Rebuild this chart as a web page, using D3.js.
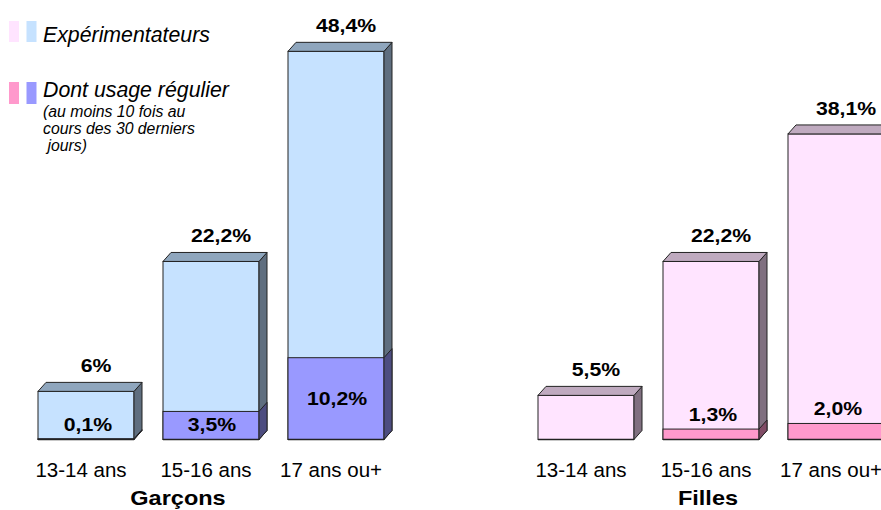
<!DOCTYPE html>
<html><head><meta charset="utf-8">
<script src="https://cdn.jsdelivr.net/npm/d3@7"></script>
<style>html,body{margin:0;padding:0;background:#fff;overflow:hidden}svg{display:block;font-family:"Liberation Sans",Arial,sans-serif}</style>
</head><body>
<svg id="chart" width="881" height="510"></svg>
<script>
// ---- data ----
const categories = ["13-14 ans", "15-16 ans", "17 ans ou+"];
const groups = ["Garçons", "Filles"];
const expGarcons = [6, 22.2, 48.4];
const regGarcons = [0.1, 3.5, 10.2];
const expFilles = [5.5, 22.2, 38.1];
const regFilles = [0, 1.3, 2.0];
const expLabelsGarcons = ["6%", "22,2%", "48,4%"];
const regLabelsGarcons = ["0,1%", "3,5%", "10,2%"];
const expLabelsFilles = ["5,5%", "22,2%", "38,1%"];
const regLabelsFilles = ["", "1,3%", "2,0%"];
const legendMain = ["Expérimentateurs", "Dont usage régulier"];
const legendNote = ["(au moins 10 fois au", "cours des 30 derniers", " jours)"];

// ---- styles ----
const palette = {
  "Garçons": {exp: "#C6E2FF", expTop: "#8FA6BD", expSide: "#5F6E7F", reg: "#9999FF", regSide: "#4D4D80"},
  "Filles":  {exp: "#FFE4FF", expTop: "#BFAABF", expSide: "#807080", reg: "#FF99CC", regSide: "#804C66"}
};
const stroke = "#222";
const dx = 8, dy = 9;
const titleDx = {"Garçons": -33, "Filles": -3};

const rows = [];
groups.forEach((g, gi) => {
  const exp = gi === 0 ? expGarcons : expFilles;
  const reg = gi === 0 ? regGarcons : regFilles;
  const el = gi === 0 ? expLabelsGarcons : expLabelsFilles;
  const rl = gi === 0 ? regLabelsGarcons : regLabelsFilles;
  categories.forEach((c, ci) => rows.push({group: g, cat: c, key: g + "|" + c, exp: exp[ci], reg: reg[ci], expLabel: el[ci], regLabel: rl[ci]}));
});

const keys = [];
groups.forEach((g, gi) => { if (gi > 0) keys.push("gap"); categories.forEach(c => keys.push(g + "|" + c)); });

const x = d3.scaleBand().domain(keys).range([38, 884]).paddingInner(0.232).paddingOuter(0);
const y = d3.scaleLinear().domain([0, 50]).range([439.5, 38.5]);

const svg = d3.select("#chart");
const bars = svg.append("g");

rows.forEach(d => {
  const p = palette[d.group];
  const x0 = x(d.key), w = x.bandwidth(), x1 = x0 + w;
  const yb = y(0), ye = y(d.exp), yr = y(d.reg);
  const g = bars.append("g");
  g.append("rect").attr("x", x0).attr("y", ye).attr("width", w).attr("height", yb - ye)
    .attr("fill", p.exp).attr("stroke", stroke).attr("stroke-width", 1);
  g.append("path").attr("d", `M${x1},${ye}L${x1+dx},${ye-dy}L${x1+dx},${yb-dy}L${x1},${yb}Z`)
    .attr("fill", p.expSide).attr("stroke", stroke).attr("stroke-width", 1);
  g.append("path").attr("d", `M${x0},${ye}L${x0+dx},${ye-dy}L${x1+dx},${ye-dy}L${x1},${ye}Z`)
    .attr("fill", p.expTop).attr("stroke", stroke).attr("stroke-width", 1);
  if (d.reg > 0) {
    g.append("rect").attr("x", x0).attr("y", yr).attr("width", w).attr("height", yb - yr)
      .attr("fill", p.reg).attr("stroke", stroke).attr("stroke-width", 1);
    g.append("path").attr("d", `M${x1},${yr}L${x1+dx},${yr-dy}L${x1+dx},${yb-dy}L${x1},${yb}Z`)
      .attr("fill", p.regSide).attr("stroke", stroke).attr("stroke-width", 1);
  }
  g.append("line").attr("x1", x0).attr("x2", x1).attr("y1", yb).attr("y2", yb)
    .attr("stroke", stroke).attr("stroke-width", 1.5);

  const boldLabel = (tx, ty, txt) => bars.append("text")
    .attr("transform", `translate(${tx},${ty}) scale(1.18,1)`)
    .attr("text-anchor", "middle").attr("font-weight", "bold").attr("font-size", 18)
    .attr("fill", "#000").text(txt);
  boldLabel(x0 + w / 2 + 10, ye - dy - 10, d.expLabel);
  if (d.regLabel) {
    const h = yb - yr;
    const ty = h >= 20 ? (yr + yb) / 2 + 6 : Math.min(yr - 8, yb - 7);
    boldLabel(x0 + w / 2 + (h >= 20 ? 1 : 2), ty, d.regLabel);
  }
  svg.append("text").attr("x", x0 + w / 2 - 5).attr("y", 477).attr("text-anchor", "middle")
    .attr("font-size", 20.5).attr("fill", "#000").text(d.cat);
});

groups.forEach(g => {
  const mid = x(g + "|" + categories[1]) + x.bandwidth() / 2 + titleDx[g];
  svg.append("text").attr("transform", `translate(${mid},505) scale(1.12,1)`)
    .attr("text-anchor", "middle").attr("font-weight", "bold").attr("font-size", 21)
    .attr("fill", "#000").text(g);
});

const leg = svg.append("g");
const legRows = [
  {y: 21, h: 21, c: [palette["Filles"].exp, palette["Garçons"].exp], text: legendMain[0], ty: 42},
  {y: 82, h: 22, c: [palette["Filles"].reg, palette["Garçons"].reg], text: legendMain[1], ty: 97}
];
legRows.forEach(r => {
  leg.append("rect").attr("x", 9).attr("y", r.y).attr("width", 10).attr("height", r.h).attr("fill", r.c[0]);
  leg.append("rect").attr("x", 26.5).attr("y", r.y).attr("width", 10).attr("height", r.h).attr("fill", r.c[1]);
  leg.append("text").attr("x", 43).attr("y", r.ty).attr("font-size", 21.3).attr("font-style", "italic")
    .attr("fill", "#000").text(r.text);
});
legendNote.forEach((t, i) => {
  leg.append("text").attr("x", 43).attr("y", 117 + i * 17).attr("font-size", 15.8).attr("font-style", "italic")
    .attr("fill", "#000").style("white-space", "pre").text(t);
});
</script>
</body></html>
